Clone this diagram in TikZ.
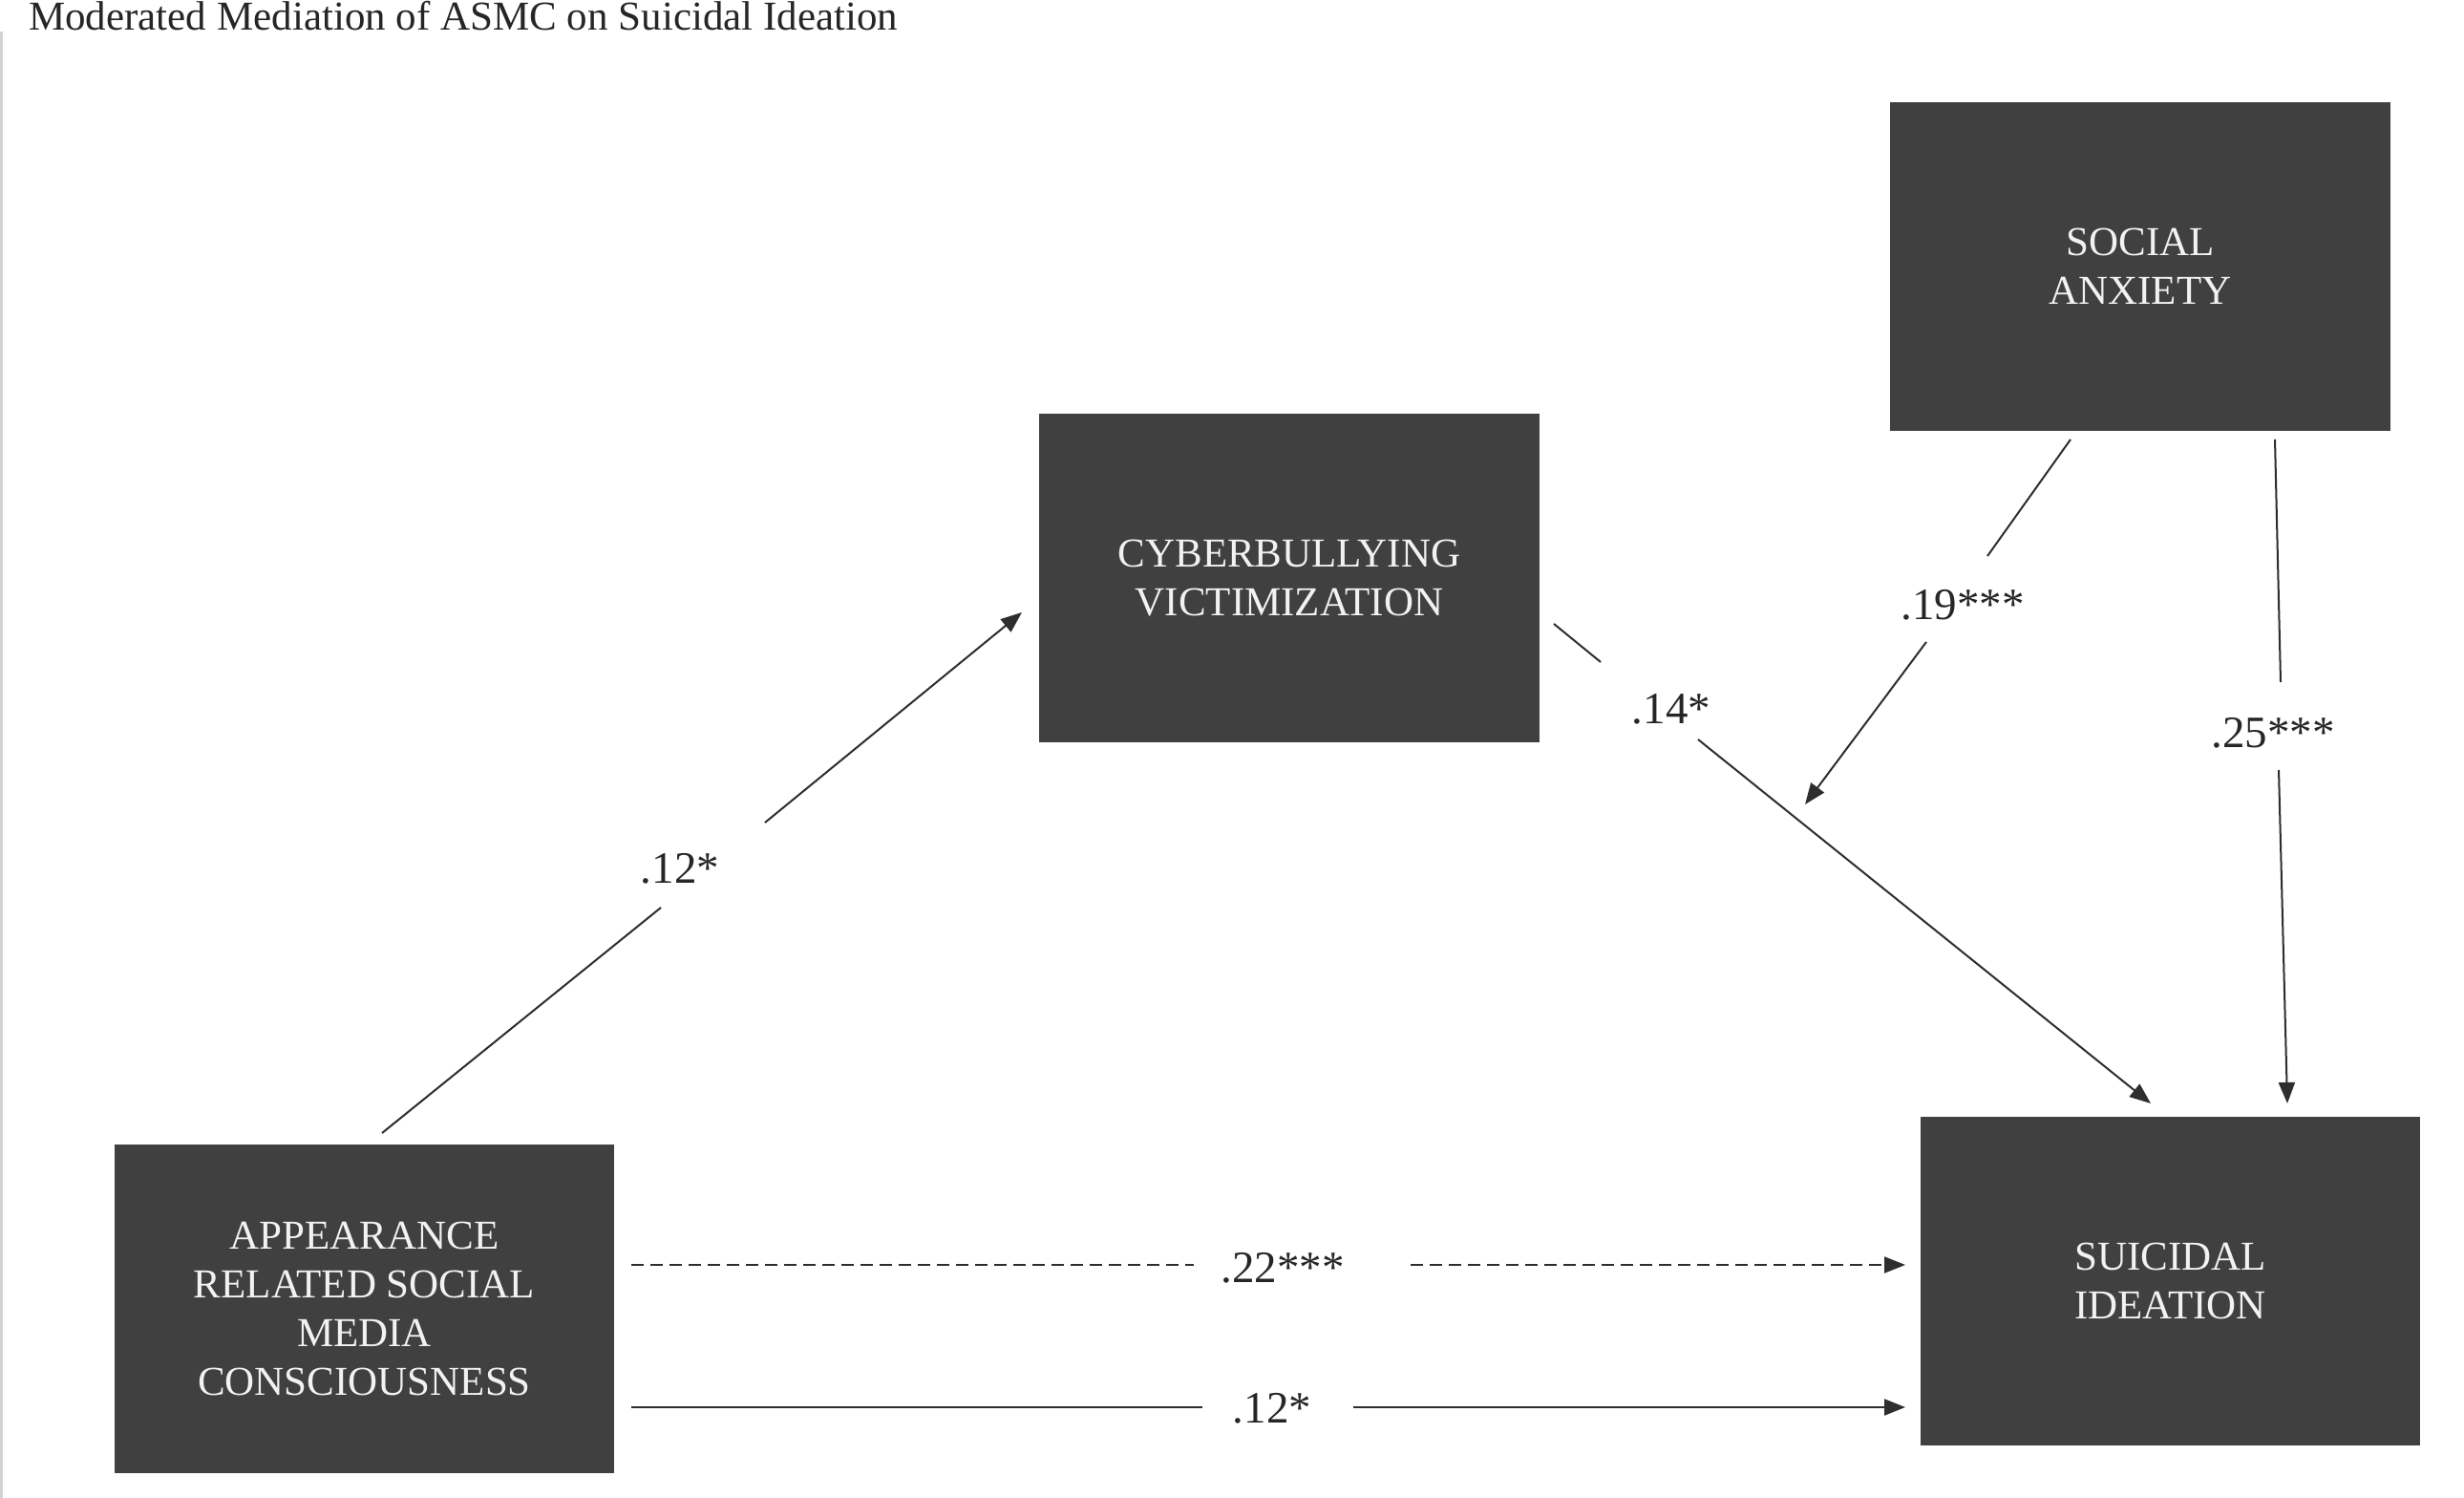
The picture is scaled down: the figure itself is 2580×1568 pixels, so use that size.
\documentclass[tikz,border=0pt]{standalone}
\usepackage{fontspec}
\setmainfont{Liberation Serif}
\usetikzlibrary{arrows.meta}
\definecolor{boxgray}{HTML}{404040}
\definecolor{linegray}{HTML}{2E2E2E}
\definecolor{txtwhite}{HTML}{F2F2F2}
\definecolor{bordergray}{HTML}{D2D2D2}
\begin{document}
\begin{tikzpicture}[x=1pt,y=-1pt,
  varbox/.style={rectangle, fill=boxgray, draw=none, minimum width=523.5pt, minimum height=344pt,
    inner sep=0pt, text=txtwhite, align=center, font=\fontsize{43}{51}\selectfont},
  conn/.style={draw=linegray, line width=2pt},
  arr/.style={conn, -{Triangle[length=22pt,width=17pt]}},
  dconn/.style={conn, dash pattern=on 13pt off 7pt},
  lbl/.style={anchor=base, inner sep=0pt, text=black!85, font=\fontsize{47}{50}\selectfont},
  ttl/.style={anchor=base west, inner sep=0pt, text=black!85, font=\fontsize{43}{50}\selectfont}]
\useasboundingbox (0,0) rectangle (2580,1568);
\fill[white] (0,0) rectangle (2580,1568);
\draw[bordergray, line width=3pt] (1.5,33) -- (1.5,1568);

\node[ttl] (title) at (30,32) {Moderated Mediation of ASMC on Suicidal Ideation};

\node[varbox] (asmc) at (381.5,1370) {APPEARANCE\\RELATED SOCIAL\\MEDIA\\CONSCIOUSNESS};
\node[varbox] (cyber) at (1350,605) {CYBERBULLYING\\VICTIMIZATION};
\node[varbox] (sa) at (2241,279) {SOCIAL\\ANXIETY};
\node[varbox] (si) at (2272.5,1341) {SUICIDAL\\IDEATION};

% ASMC -> Cyberbullying
\coordinate (l1s) at (400,1186);
\coordinate (l1a) at (692,950);
\coordinate (l1b) at (801,861);
\coordinate (l1e) at (1070,641);
\draw[conn] (l1s) -- (l1a);
\draw[arr] (l1b) -- (l1e);
\node[lbl] (lab1) at (712,924) {.12*};

% Cyberbullying -> Suicidal ideation
\coordinate (l2s) at (1627,653);
\coordinate (l2a) at (1676,693);
\coordinate (l2b) at (1778,774);
\coordinate (l2e) at (2252,1155);
\draw[conn] (l2s) -- (l2a);
\draw[arr] (l2b) -- (l2e);
\node[lbl] (lab2) at (1750,757) {.14*};

% Social anxiety -> moderation
\coordinate (l3s) at (2168,460);
\coordinate (l3a) at (2081,582);
\coordinate (l3b) at (2017,672);
\coordinate (l3e) at (1890,842);
\draw[conn] (l3s) -- (l3a);
\draw[arr] (l3b) -- (l3e);
\node[lbl] (lab3) at (2055,648) {.19***};

% Social anxiety -> Suicidal ideation
\coordinate (l4s) at (2382,460);
\coordinate (l4a) at (2388,714);
\coordinate (l4b) at (2386,806);
\coordinate (l4e) at (2395,1155);
\draw[conn] (l4s) -- (l4a);
\draw[arr] (l4b) -- (l4e);
\node[lbl] (lab4) at (2380,782) {.25***};

% ASMC -> Suicidal ideation (dashed)
\coordinate (l5s) at (661,1324);
\coordinate (l5a) at (1250,1324);
\coordinate (l5b) at (1477,1324);
\coordinate (l5e) at (1995,1324);
\draw[dconn] (l5s) -- (l5a);
\draw[dconn, -{Triangle[length=22pt,width=17pt]}] (l5b) -- (l5e);
\node[lbl] (lab5) at (1343,1342) {.22***};

% ASMC -> Suicidal ideation (solid)
\coordinate (l6s) at (661,1473);
\coordinate (l6a) at (1259,1473);
\coordinate (l6b) at (1417,1473);
\coordinate (l6e) at (1995,1473);
\draw[conn] (l6s) -- (l6a);
\draw[arr] (l6b) -- (l6e);
\node[lbl] (lab6) at (1332,1489) {.12*};
\end{tikzpicture}
\end{document}
